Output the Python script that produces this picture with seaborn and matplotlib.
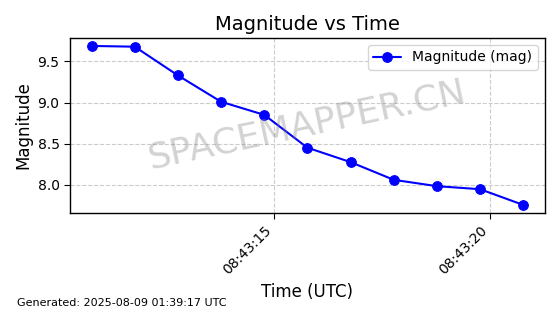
import matplotlib
matplotlib.use("Agg")
import matplotlib.pyplot as plt
import matplotlib.dates as mdates
import seaborn as sns
import pandas as pd
import numpy as np

times = ["08:43:10.78", "08:43:11.78", "08:43:12.78", "08:43:13.78", "08:43:14.78",
         "08:43:15.78", "08:43:16.78", "08:43:17.78", "08:43:18.78", "08:43:19.78",
         "08:43:20.78"]
magnitudes = [9.687, 9.678, 9.329, 9.009, 8.850, 8.451, 8.276, 8.061, 7.984, 7.947, 7.756]

df = pd.DataFrame({
    "time": pd.to_datetime(["2025-08-09 " + t for t in times]),
    "mag": magnitudes,
})

sns.set_style("white", rc={"text.color": "black", "axes.labelcolor": "black",
                           "xtick.color": "black", "ytick.color": "black",
                           "axes.edgecolor": "black"})
plt.rcParams['font.family'] = ['DejaVu Sans']

fig, ax = plt.subplots(figsize=(5.6, 3.14), dpi=100)
fig.subplots_adjust(left=0.125, right=0.973, top=0.879, bottom=0.322)

sns.lineplot(data=df, x="time", y="mag", ax=ax, color="blue", marker="o",
             markersize=7, markeredgecolor="blue", linewidth=1.5,
             label="Magnitude (mag)")

ax.set_title("Magnitude vs Time", fontsize=14)
ax.set_xlabel("Time (UTC)", fontsize=12)
ax.set_ylabel("Magnitude", fontsize=12)
ax.grid(True, linestyle="--", color="#cccccc", linewidth=0.8)
ax.xaxis.set_major_locator(mdates.SecondLocator(bysecond=[15, 20]))
ax.xaxis.set_major_formatter(mdates.DateFormatter("%H:%M:%S"))
plt.setp(ax.get_xticklabels(), rotation=45, ha="right")
ax.tick_params(axis="both", labelsize=10, length=4, left=True, bottom=True)
for s in ax.spines.values():
    s.set_color("black")
    s.set_linewidth(1.0)
ax.legend(loc="upper right", fontsize=10)

ax.text(0.5, 0.50, "SPACEMAPPER.CN", transform=ax.transAxes, fontsize=26,
        color="gray", alpha=0.35, rotation=12, ha="center", va="center")

fig.text(0.03, 0.025, "Generated: 2025-08-09 01:39:17 UTC", fontsize=8)

fig.savefig("out.png", dpi=100)
